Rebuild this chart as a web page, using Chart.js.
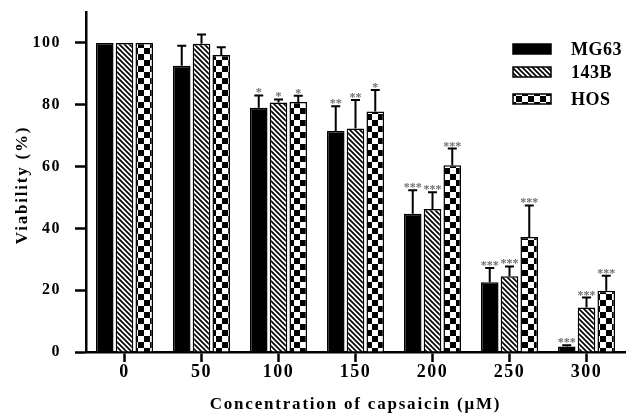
<!DOCTYPE html>
<html>
<head>
<meta charset="utf-8">
<script src="https://cdn.jsdelivr.net/npm/chart.js@4.4.1/dist/chart.umd.min.js"></script>
<style>
  html, body { margin: 0; padding: 0; background: #fff; }
  #wrap { width: 634px; height: 418px; }
</style>
</head>
<body>
<div id="wrap"><canvas id="chart"></canvas></div>
<script>
const categories = ['0', '50', '100', '150', '200', '250', '300'];
const mg63 = [100, 92.6, 79, 71.5, 44.7, 22.6, 1.8];
const mg63_err = [0, 6.5, 4, 8, 7.6, 4.6, 0.4];
const b143 = [100, 99.7, 80.7, 72.3, 46.3, 24.5, 14.4];
const b143_err = [0, 3, 1, 9.2, 5.4, 3.2, 3.2];
const hos = [100, 96.1, 80.9, 77.8, 60.4, 37.2, 19.8];
const hos_err = [0, 2.5, 2, 7, 5.4, 10.2, 4.9];
const mg63_stars = ['', '', '*', '**', '***', '***', '***'];
const b143_stars = ['', '', '*', '**', '***', '***', '***'];
const hos_stars = ['', '', '*', '*', '***', '***', '***'];
const y_ticks = [0, 20, 40, 60, 80, 100];

const SERIF = '"Liberation Serif", "Times New Roman", serif';

const canvas = document.getElementById('chart');
const ctx = canvas.getContext('2d');

function hatch_pattern() {
    const c = document.createElement('canvas');
    c.width = 5; c.height = 5;
    const g = c.getContext('2d');
    g.fillStyle = '#fff';
    g.fillRect(0, 0, 5, 5);
    g.strokeStyle = '#000';
    g.lineWidth = 1.7;
    g.beginPath();
    g.moveTo(-1, -1); g.lineTo(6, 6);
    g.moveTo(-1, 4); g.lineTo(1, 6);
    g.moveTo(4, -1); g.lineTo(6, 1);
    g.stroke();
    return ctx.createPattern(c, 'repeat');
}

function checker_pattern() {
    const c = document.createElement('canvas');
    c.width = 12; c.height = 12;
    const g = c.getContext('2d');
    g.fillStyle = '#fff';
    g.fillRect(0, 0, 12, 12);
    g.fillStyle = '#000';
    g.fillRect(0, 0, 6, 6);
    g.fillRect(6, 6, 6, 6);
    return ctx.createPattern(c, 'repeat');
}

const errors = [mg63_err, b143_err, hos_err];
const stars = [mg63_stars, b143_stars, hos_stars];

// wider spacing for the tick numbers
const spacing_plugin = {
    id: 'spacing',
    beforeDraw(chart) { chart.ctx.letterSpacing = '1.5px'; },
    afterDatasetsDraw(chart) { chart.ctx.letterSpacing = '0px'; }
};

// upper error bars + significance stars
const error_bar_plugin = {
    id: 'error_bars',
    afterDatasetsDraw(chart) {
        const c = chart.ctx;
        const y = chart.scales.y;
        c.save();
        c.letterSpacing = '0px';
        chart.data.datasets.forEach((ds, i) => {
            const meta = chart.getDatasetMeta(i);
            meta.data.forEach((bar, j) => {
                const v = ds.data[j];
                const e = errors[i][j];
                const top = y.getPixelForValue(v + e);
                if (e > 0) {
                    c.strokeStyle = '#000';
                    c.lineWidth = 2;
                    c.beginPath();
                    c.moveTo(bar.x, bar.y);
                    c.lineTo(bar.x, top);
                    c.moveTo(bar.x - 4.5, top);
                    c.lineTo(bar.x + 4.5, top);
                    c.stroke();
                }
                const s = stars[i][j];
                if (s) {
                    c.fillStyle = '#707070';
                    c.font = 'bold 12px ' + SERIF;
                    c.textAlign = 'center';
                    c.textBaseline = 'alphabetic';
                    c.fillText(s, bar.x, top + 1);
                }
            });
        });
        c.restore();
    }
};

// legend and axis titles
const decor_plugin = {
    id: 'decor',
    afterDraw(chart) {
        const c = chart.ctx;
        const area = chart.chartArea;
        c.save();
        const box_x = area.right - 112;
        const rows = [49, 72, 99];
        chart.data.datasets.forEach((ds, i) => {
            const cy = rows[i];
            c.fillStyle = ds.backgroundColor;
            c.fillRect(box_x, cy - 5, 38, 10);
            c.strokeStyle = '#000';
            c.lineWidth = 1.5;
            c.strokeRect(box_x, cy - 5, 38, 10);
            c.fillStyle = '#000';
            c.font = 'bold 18px ' + SERIF;
            c.textAlign = 'left';
            c.textBaseline = 'middle';
            c.letterSpacing = '0.5px';
            c.fillText(ds.label, box_x + 58, cy + 1);
        });

        c.letterSpacing = '1.8px';
        c.font = 'bold 17px ' + SERIF;
        c.fillStyle = '#000';
        c.textAlign = 'center';
        c.textBaseline = 'middle';
        c.fillText('Concentration of capsaicin (\u03bcM)', (area.left + area.right) / 2, 405);

        c.translate(23, (area.top + area.bottom) / 2 + 3);
        c.rotate(-Math.PI / 2);
        c.fillText('Viability (%)', 0, 0);
        c.restore();
    }
};

new Chart(ctx, {
    type: 'bar',
    data: {
        labels: categories,
        datasets: [
            { label: 'MG63', data: mg63, backgroundColor: '#000' },
            { label: '143B', data: b143, backgroundColor: hatch_pattern() },
            { label: 'HOS', data: hos, backgroundColor: checker_pattern() }
        ].map(d => Object.assign(d, {
            borderColor: '#000',
            borderWidth: 1.5,
            borderSkipped: 'start',
            categoryPercentage: 0.77,
            barPercentage: 0.89
        }))
    },
    options: {
        animation: false,
        responsive: true,
        maintainAspectRatio: false,
        layout: { padding: { top: 12, right: 9, left: 0, bottom: 0 } },
        plugins: {
            legend: { display: false },
            tooltip: { enabled: false }
        },
        scales: {
            x: {
                grid: {
                    offset: false,
                    drawOnChartArea: false,
                    drawTicks: true,
                    tickLength: 10,
                    tickWidth: 2.5,
                    tickColor: '#000'
                },
                border: { display: true, color: '#000', width: 2.5 },
                ticks: {
                    color: '#000',
                    font: { family: SERIF, size: 18, weight: 'bold' },
                    padding: 0,
                    maxRotation: 0
                },
                afterFit: (axis) => {
                    axis.height = 66;
                    axis.paddingLeft = 0;
                    axis.paddingRight = 0;
                }
            },
            y: {
                min: 0,
                max: 110,
                afterBuildTicks: (axis) => { axis.ticks = y_ticks.map(v => ({ value: v })); },
                grid: {
                    drawOnChartArea: false,
                    drawTicks: true,
                    tickLength: 11,
                    tickWidth: 2.5,
                    tickColor: '#000'
                },
                border: { display: true, color: '#000', width: 2.5 },
                ticks: {
                    color: '#000',
                    font: { family: SERIF, size: 16, weight: 'bold' },
                    padding: 14
                },
                afterFit: (axis) => {
                    axis.width = 86;
                    axis.paddingTop = 0;
                    axis.paddingBottom = 0;
                }
            }
        }
    },
    plugins: [spacing_plugin, error_bar_plugin, decor_plugin]
});
</script>
</body>
</html>
